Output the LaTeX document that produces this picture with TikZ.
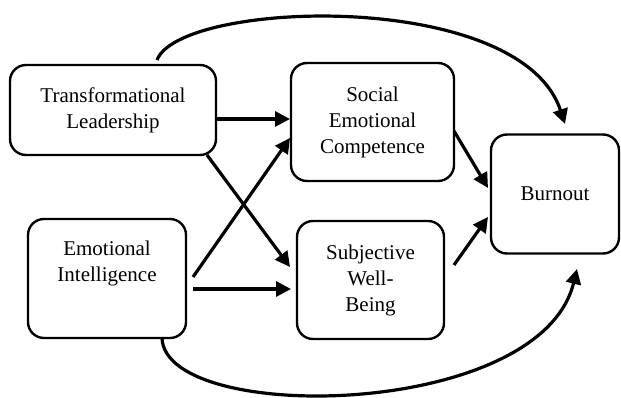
\documentclass[tikz,border=0pt]{standalone}
\usepackage{fontspec}
\setmainfont{Liberation Serif}
\usetikzlibrary{arrows.meta}
\begin{document}
\begin{tikzpicture}[x=1pt,y=-1pt,
  box/.style={draw,line width=2.4pt,rounded corners=16pt,align=center,
    inner sep=0pt,font=\rmfamily\fontsize{21}{26}\selectfont},
  link/.style={line width=3.2pt,-{Triangle[length=15pt,width=15pt]}}]
  \useasboundingbox (0,0) rectangle (621,398);

  % construct boxes
  \node[box,minimum width=206,minimum height=90] (tl) at (113,110)
    {Transformational\\Leadership};
  \node[box,minimum width=163,minimum height=118] (sec) at (372.5,122)
    {Social\\Emotional\\Competence};
  \node[box,minimum width=128,minimum height=119] (bo) at (555,194)
    {Burnout};
  \node[box,minimum width=158,minimum height=119] (ei) at (107,278.5)
    {Emotional\\Intelligence\\\strut};
  \node[box,minimum width=147,minimum height=118] (swb) at (370.5,280)
    {Subjective\\Well-\\Being};

  % free ends of the paths
  \coordinate (tlR) at (217,119);
  \coordinate (tlC) at (207,155);
  \coordinate (tlT) at (157,60);
  \coordinate (eiR) at (193,289);
  \coordinate (eiC) at (193,277);
  \coordinate (eiB) at (162,338);
  \coordinate (secL) at (290,119);
  \coordinate (secC) at (290,138);
  \coordinate (secO) at (454,131);
  \coordinate (swbL) at (291,289);
  \coordinate (swbC) at (290,267);
  \coordinate (swbO) at (454,265);
  \coordinate (boA) at (488,188);
  \coordinate (boB) at (488,217);
  \coordinate (boT) at (565,124);
  \coordinate (boD) at (577,269);

  % paths
  \draw[link] (tlR) -- (secL);
  \draw[link] (tlC) -- (swbC);
  \draw[link] (eiC) -- (secC);
  \draw[link] (eiR) -- (swbL);
  \draw[link] (secO) -- (boA);
  \draw[link] (swbO) -- (boB);
  \draw[link] (tlT) .. controls (180,0) and (520,-12) .. (boT);
  \draw[link] (eiB) .. controls (165,425) and (540,420) .. (boD);
\end{tikzpicture}
\end{document}
